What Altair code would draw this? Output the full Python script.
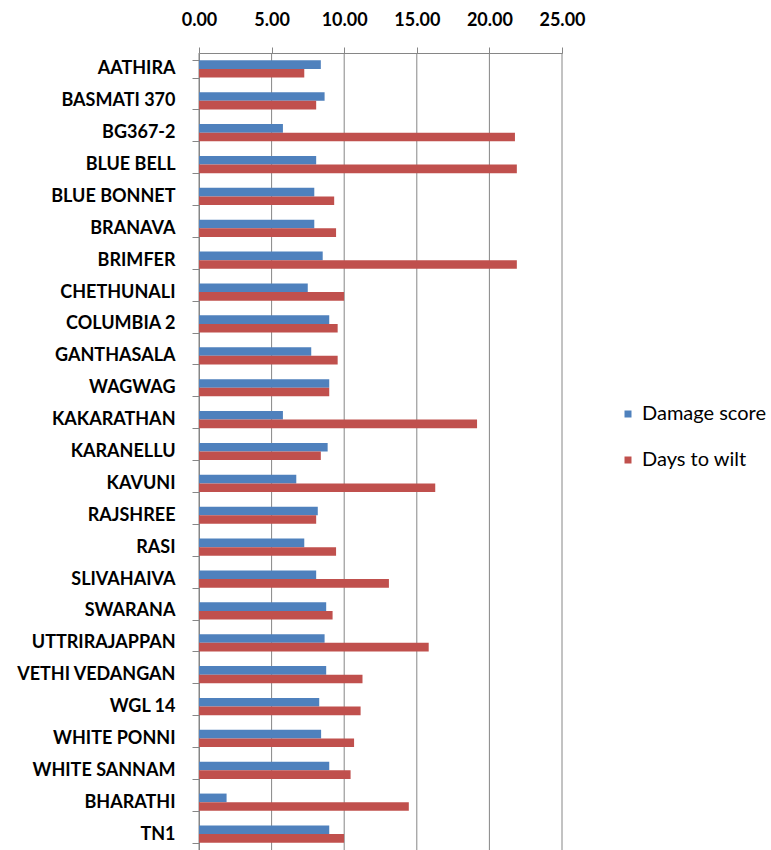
import altair as alt
import pandas as pd

categories = ["AATHIRA", "BASMATI 370", "BG367-2", "BLUE BELL", "BLUE BONNET", "BRANAVA",
              "BRIMFER", "CHETHUNALI", "COLUMBIA 2", "GANTHASALA", "WAGWAG", "KAKARATHAN",
              "KARANELLU", "KAVUNI", "RAJSHREE", "RASI", "SLIVAHAIVA", "SWARANA",
              "UTTRIRAJAPPAN", "VETHI VEDANGAN", "WGL 14", "WHITE PONNI", "WHITE SANNAM",
              "BHARATHI", "TN1"]
damage_score = [8.39, 8.65, 5.78, 8.07, 7.94, 7.94, 8.52, 7.49, 8.97, 7.73, 8.97, 5.78,
                8.86, 6.70, 8.18, 7.25, 8.07, 8.76, 8.65, 8.76, 8.28, 8.41, 8.97, 1.90, 8.97]
days_to_wilt = [7.25, 8.07, 21.76, 21.89, 9.31, 9.44, 21.89, 9.99, 9.55, 9.55, 8.97, 19.15,
                8.39, 16.27, 8.07, 9.44, 13.08, 9.20, 15.82, 11.26, 11.13, 10.68, 10.44, 14.45, 9.99]
series = ["Damage score", "Days to wilt"]
colors = ["#4F81BD", "#C0504D"]
x_ticks = [0, 5, 10, 15, 20, 25]

rows = []
for c, d, w in zip(categories, damage_score, days_to_wilt):
    rows.append({"Variety": c, "Series": series[0], "Value": d})
    rows.append({"Variety": c, "Series": series[1], "Value": w})
df = pd.DataFrame(rows)
grid_df = pd.DataFrame({"Value": x_ticks})

FONT = "Lato"
GRAY = "#868686"

x_scale = alt.Scale(domain=[0, 25], nice=False)
x_axis = alt.Axis(title=None, orient="top", values=x_ticks, format=".2f",
                  ticks=True, tickSize=6, tickColor=GRAY, tickWidth=1,
                  domainColor=GRAY, grid=False, labelFlush=False,
                  labelFont=FONT, labelFontWeight="bold",
                  labelFontSize=18, labelColor="black", labelPadding=18)

grid = alt.Chart(grid_df).mark_rule(color=GRAY, strokeWidth=1).encode(
    x=alt.X("Value:Q", scale=x_scale, axis=x_axis)
)

bars = alt.Chart(df).mark_bar().encode(
    y=alt.Y("Variety:N", sort=categories,
            scale=alt.Scale(paddingInner=0.46, paddingOuter=0.23),
            axis=alt.Axis(title=None, tickBand="extent", tickSize=7, tickColor=GRAY,
                          domainColor=GRAY, labelFont=FONT, labelFontWeight="bold",
                          labelFontSize=18, labelColor="black", labelPadding=17, grid=False)),
    yOffset=alt.YOffset("Series:N", sort=series),
    x=alt.X("Value:Q", scale=x_scale, axis=x_axis),
    color=alt.Color("Series:N", scale=alt.Scale(domain=series, range=colors),
                    legend=alt.Legend(title=None, orient="none", legendX=419, legendY=351,
                                      padding=0, symbolType="square", symbolSize=49,
                                      symbolStrokeWidth=0,
                                      labelFont=FONT, labelFontSize=20, labelColor="black",
                                      rowPadding=26, labelOffset=4)),
)

chart = alt.layer(grid, bars).properties(
    width=363, height=797,
    autosize=alt.AutoSizeParams(type="none"),
    padding={"left": 199, "top": 53, "right": 209, "bottom": 0},
).configure_view(stroke=None)

chart.save("out.html", embed_options={"renderer": "svg", "actions": False})
